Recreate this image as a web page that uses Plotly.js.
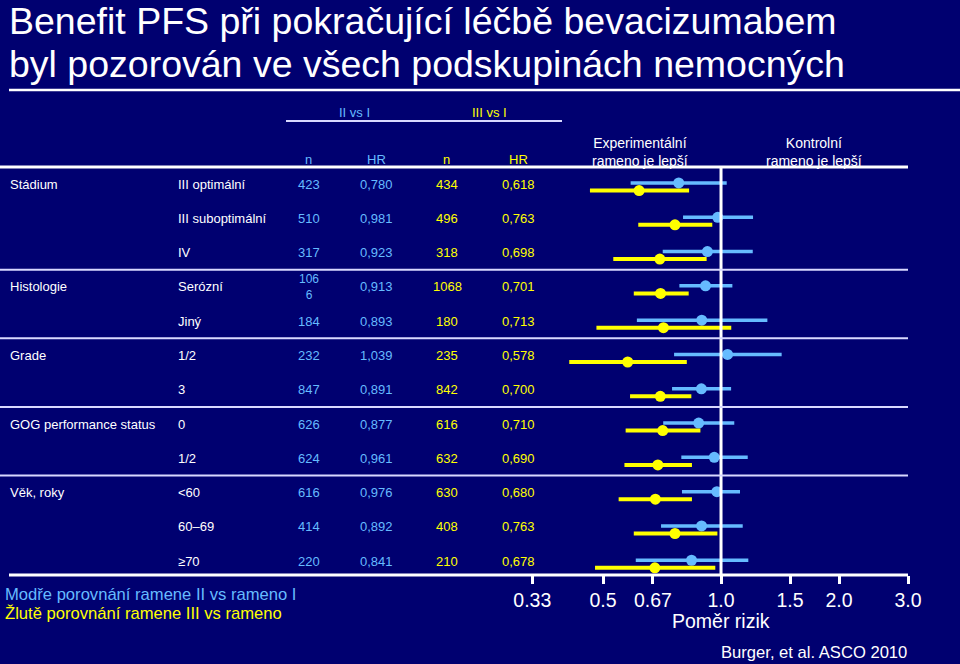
<!DOCTYPE html>
<html><head><meta charset="utf-8">
<script src="https://cdn.plot.ly/plotly-3.0.1.min.js"></script>
<style>html,body{margin:0;padding:0;background:#000070;}#chart{width:960px;height:664px;}</style>
</head><body><div id="chart"></div>
<script>
// ---- data ----
const groups = ["Stádium","","","Histologie","","Grade","","GOG performance status","","Věk, roky","",""];
const subgroups = ["III optimální","III suboptimální","IV","Serózní","Jiný","1/2","3","0","1/2","<60","60–69","≥70"];
const nBlue = ["423","510","317","106<br>6","184","232","847","626","624","616","414","220"];
const hrBlue = [0.780,0.981,0.923,0.913,0.893,1.039,0.891,0.877,0.961,0.976,0.892,0.841];
const loBlue = [0.588,0.800,0.710,0.783,0.610,0.759,0.750,0.712,0.792,0.795,0.703,0.606];
const hiBlue = [1.034,1.207,1.205,1.069,1.313,1.428,1.061,1.081,1.170,1.118,1.136,1.174];
const nYellow = ["434","496","318","1068","180","235","842","616","632","630","408","210"];
const hrYellow = [0.618,0.763,0.698,0.701,0.713,0.578,0.700,0.710,0.690,0.680,0.763,0.678];
const loYellow = [0.463,0.615,0.531,0.599,0.481,0.410,0.586,0.571,0.567,0.548,0.599,0.477];
const hiYellow = [0.829,0.950,0.919,0.827,1.062,0.818,0.840,0.886,0.843,0.843,0.979,0.967];
const tickVals = [0.33,0.5,0.67,1.0,1.5,2.0,3.0];
const tickText = ["0.33","0.5","0.67","1.0","1.5","2.0","3.0"];

// ---- styling ----
const BG = "#000070", BLUE = "#66bbff", YELLOW = "#ffff00", WHITE = "#ffffff";
const FONT = "Liberation Sans, Arial, sans-serif";
const X = px => px / 960;               // pixel -> paper x
const Y = py => (575 - py) / 408;       // pixel -> paper y
const rows = hrBlue.map((_, i) => i + 1);
const fmt = v => v.toFixed(3).replace(".", ",");

const traces = [
  {
    type: "scatter", mode: "markers", x: hrBlue, y: rows.map(r => r - 0.03),
    marker: {color: BLUE, size: 11},
    error_x: {type: "data", symmetric: false,
      array: hiBlue.map((h, i) => h - hrBlue[i]),
      arrayminus: loBlue.map((l, i) => hrBlue[i] - l),
      color: BLUE, thickness: 3.5, width: 0},
    hoverinfo: "skip", showlegend: false
  },
  {
    type: "scatter", mode: "markers", x: hrYellow, y: rows.map(r => r + 0.19),
    marker: {color: YELLOW, size: 11},
    error_x: {type: "data", symmetric: false,
      array: hiYellow.map((h, i) => h - hrYellow[i]),
      arrayminus: loYellow.map((l, i) => hrYellow[i] - l),
      color: YELLOW, thickness: 4, width: 0},
    hoverinfo: "skip", showlegend: false
  }
];

const ann = [];
function txt(text, x, y, size, color, anchor, yref) {
  ann.push({text: text, x: x, y: y, xref: "paper", yref: yref || "paper",
    xanchor: anchor || "center", yanchor: "middle", showarrow: false,
    font: {family: FONT, size: size, color: color}});
}
// title
txt("Benefit PFS při pokračující léčbě bevacizumabem", X(7), Y(21.5), 37.5, WHITE, "left");
txt("byl pozorován ve všech podskupinách nemocných", X(7), Y(63.5), 37.5, WHITE, "left");
// headers
txt("II vs I", X(354), Y(112), 13, BLUE);
txt("III vs I", X(489), Y(112), 13, YELLOW);
txt("n", X(308), Y(159), 13, BLUE);
txt("HR", X(376), Y(159), 13, BLUE);
txt("n", X(446), Y(159), 13, YELLOW);
txt("HR", X(518), Y(159), 13, YELLOW);
txt("Experimentální<br>rameno je lepší", X(640), Y(152), 14, WHITE);
txt("Kontrolní<br>rameno je lepší", X(814), Y(152), 14, WHITE);
// table rows
rows.forEach((r, i) => {
  if (groups[i]) txt(groups[i], X(8), r, 13, WHITE, "left", "y");
  txt(subgroups[i], X(176), r, 13, WHITE, "left", "y");
  txt(nBlue[i], X(309), r, nBlue[i].includes("<br>") ? 12 : 13, BLUE, "center", "y");
  txt(fmt(hrBlue[i]), X(376), r, 13, BLUE, "center", "y");
  txt(nYellow[i], X(447), r, 13, YELLOW, "center", "y");
  txt(fmt(hrYellow[i]), X(518), r, 13, YELLOW, "center", "y");
});
// bottom texts
txt("Modře porovnání ramene II vs rameno I", X(3), Y(594), 16.6, BLUE, "left");
txt("Žlutě porovnání ramene III vs rameno", X(3), Y(613), 16.6, YELLOW, "left");
txt("Poměr rizik", X(721), Y(621), 19.5, WHITE);
txt("Burger, et al. ASCO 2010", X(814), Y(652), 16.6, WHITE);

const shapes = [
  {type: "line", xref: "paper", yref: "paper", x0: X(9), x1: 1, y0: Y(90), y1: Y(90), line: {color: WHITE, width: 2.5}},
  {type: "line", xref: "paper", yref: "paper", x0: X(286), x1: X(562), y0: Y(121), y1: Y(121), line: {color: "#d8d8ff", width: 2}},
  {type: "line", xref: "paper", yref: "paper", x0: 0, x1: X(908), y0: 1, y1: 1, line: {color: WHITE, width: 3}},
  {type: "line", xref: "paper", yref: "paper", x0: X(9), x1: X(908), y0: 0, y1: 0, line: {color: WHITE, width: 3}},
  {type: "line", xref: "x", yref: "paper", x0: 1, x1: 1, y0: 0, y1: 1, line: {color: WHITE, width: 3}}
];
[3.5, 5.5, 7.5, 9.5].forEach(v => shapes.push(
  {type: "line", xref: "paper", yref: "y", x0: 0, x1: X(908), y0: v, y1: v, line: {color: "#d8d8ff", width: 2}}));

const layout = {
  width: 960, height: 664,
  paper_bgcolor: BG, plot_bgcolor: BG,
  margin: {l: 0, r: 0, t: 167, b: 89, pad: 0},
  font: {family: FONT, color: WHITE},
  xaxis: {type: "log", domain: [X(520), X(912)], range: [-0.5129, 0.4873],
    tickvals: tickVals, ticktext: tickText, ticks: "outside", ticklen: 8, tickwidth: 3,
    tickcolor: WHITE, showgrid: false, zeroline: false, showline: false,
    tickfont: {family: FONT, size: 19.5, color: WHITE}},
  yaxis: {range: [12.40, 0.504], visible: false, showgrid: false, zeroline: false},
  annotations: ann, shapes: shapes, showlegend: false
};
Plotly.newPlot("chart", traces, layout, {staticPlot: true, displayModeBar: false});
</script></body></html>
